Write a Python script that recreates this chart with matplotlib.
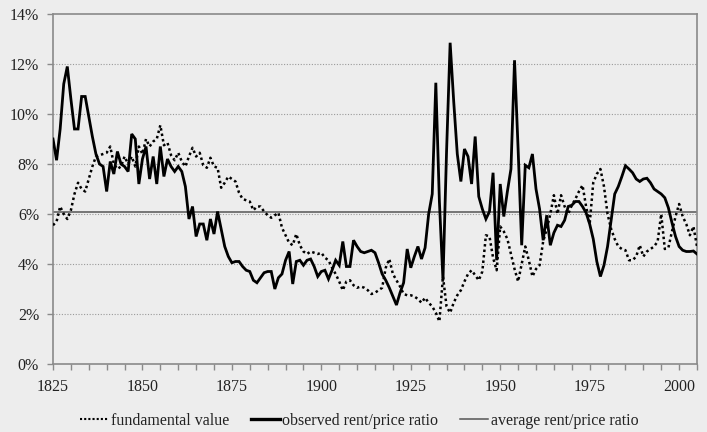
import numpy as np
import matplotlib
matplotlib.use('Agg')
import matplotlib.pyplot as plt
from matplotlib.lines import Line2D
from matplotlib.ticker import MultipleLocator, FuncFormatter

plt.rcParams['font.family'] = ['Liberation Serif', 'DejaVu Serif']

# yearly series, 1825-2005, in percent
years = np.arange(1825, 2006)

observed = [
    9.0, 8.15, 9.4, 11.2, 11.9, 10.6, 9.4, 9.4, 10.7, 10.7,
    9.9, 9.1, 8.4, 8.0, 7.9, 6.9, 8.1, 7.6, 8.5, 8.0,
    7.9, 7.7, 9.2, 9.0, 7.2, 8.2, 8.7, 7.4, 8.3, 7.2,
    8.7, 7.5, 8.2, 7.9, 7.7, 7.9, 7.7, 7.1, 5.8, 6.3,
    5.1, 5.6, 5.6, 4.95, 5.8, 5.2, 6.1, 5.4, 4.7, 4.3,
    4.05, 4.1, 4.1, 3.9, 3.75, 3.7, 3.35, 3.25, 3.45, 3.65,
    3.7, 3.7, 3.0, 3.45, 3.6, 4.15, 4.5, 3.2, 4.1, 4.15,
    3.95, 4.15, 4.2, 3.9, 3.5, 3.7, 3.75, 3.4, 3.75, 4.15,
    3.95, 4.9, 3.9, 3.9, 4.95, 4.7, 4.5, 4.45, 4.5, 4.55,
    4.45, 4.05, 3.6, 3.35, 3.05, 2.7, 2.36, 2.85, 3.25, 4.6,
    3.85, 4.3, 4.7, 4.2, 4.65, 6.0, 6.8, 11.25, 6.5, 3.35,
    8.5, 12.85, 10.5, 8.4, 7.3, 8.6, 8.3, 7.2, 9.1, 6.7,
    6.2, 5.8, 6.1, 7.65, 4.15, 7.2, 5.9, 6.9, 7.8, 12.15,
    8.6, 4.75, 7.95, 7.85, 8.4, 7.0, 6.2, 4.95, 5.95, 4.75,
    5.25, 5.55, 5.5, 5.75, 6.3, 6.35, 6.5, 6.5, 6.3, 6.05,
    5.6, 5.0, 4.1, 3.5, 3.95, 4.7, 5.75, 6.8, 7.1, 7.5,
    7.93, 7.8, 7.65, 7.4, 7.3, 7.4, 7.43, 7.25, 7.0, 6.9,
    6.8, 6.65, 6.25, 5.65, 5.1, 4.7, 4.55, 4.5, 4.5, 4.52, 4.4,
]

fundamental = [
    5.55, 5.7, 6.3, 6.0, 5.8, 6.15, 6.8, 7.25, 7.0, 6.9,
    7.4, 7.9, 8.3, 8.35, 8.4, 8.45, 8.7, 8.0, 7.8, 7.9,
    8.3, 8.0, 8.3, 7.9, 8.7, 8.4, 9.0, 8.7, 8.9, 9.0,
    9.55, 8.75, 8.85, 8.35, 8.15, 8.45, 8.1, 7.9, 8.3, 8.65,
    8.3, 8.45, 7.95, 7.85, 8.25, 7.9, 7.85, 7.05, 7.25, 7.5,
    7.4, 7.3, 6.85, 6.6, 6.55, 6.5, 6.15, 6.3, 6.3, 6.1,
    5.95, 5.85, 5.95, 6.05, 5.45, 5.15, 4.85, 4.75, 5.2, 4.75,
    4.5, 4.4, 4.5, 4.45, 4.4, 4.45, 4.25, 4.15, 3.85, 3.6,
    3.3, 2.95, 3.3, 3.35, 3.15, 3.05, 3.1, 3.05, 2.95, 2.8,
    2.85, 2.95, 3.05, 3.85, 4.2, 3.6, 3.35, 3.1, 2.8, 2.75,
    2.75, 2.7, 2.6, 2.45, 2.65, 2.45, 2.3, 2.05, 1.7, 3.5,
    2.3, 2.05, 2.45, 2.75, 2.95, 3.3, 3.6, 3.75, 3.55, 3.35,
    3.7, 5.15, 5.1, 4.25, 3.75, 5.5, 5.3, 5.0, 4.4, 3.8,
    3.3, 4.0, 4.7, 4.15, 3.5, 3.8, 3.95, 4.9, 5.4, 6.0,
    6.75, 6.0, 6.75, 6.3, 6.0, 6.35, 6.6, 6.9, 7.15, 6.3,
    5.6, 7.25, 7.6, 7.8, 7.1, 6.0, 5.4, 5.0, 4.7, 4.6,
    4.55, 4.15, 4.15, 4.3, 4.75, 4.3, 4.5, 4.6, 4.7, 4.9,
    6.0, 4.6, 4.65, 5.3, 5.9, 6.4, 5.9, 5.6, 5.15, 5.5, 4.7,
]

avg_ratio = 6.1

bg = '#ededed'
frame = '#8a8a8a'

fig = plt.figure(figsize=(7.07, 4.32), dpi=100, facecolor=bg)
ax = fig.add_axes([53 / 707, 1 - 364 / 432, 644 / 707, 350 / 432])
ax.set_facecolor(bg)

# horizontal grid
for v in range(2, 14, 2):
    ax.axhline(v, color='#9a9a9a', lw=0.8, ls=(0, (1, 1.5)), zorder=1)

ax.axhline(avg_ratio, color='#555555', lw=1.1, zorder=2)
ax.plot(years, fundamental, color='black', lw=1.8, ls=(0, (1, 1.2)),
        dash_capstyle='butt', zorder=3)
ax.plot(years, observed, color='black', lw=2.0, solid_joinstyle='miter',
        zorder=4)

ax.set_xlim(1825, 2005)
ax.set_ylim(0, 14)

ax.yaxis.set_major_locator(MultipleLocator(2))
ax.yaxis.set_major_formatter(FuncFormatter(lambda v, p: '%d%%' % v))
ax.set_xticks(range(1825, 2001, 25))
ax.xaxis.set_minor_locator(MultipleLocator(5))

for s in ax.spines.values():
    s.set_color(frame)
    s.set_linewidth(1.2)

ax.tick_params(axis='both', which='both', direction='out', color=frame,
               width=1.0, labelsize=11.5, labelcolor='#222222')
ax.tick_params(axis='x', which='both', length=4, pad=7)
ax.tick_params(axis='y', length=4, pad=6)

handles = [
    Line2D([], [], color='black', lw=1.5, ls=(0, (1, 1))),
    Line2D([], [], color='black', lw=2.4),
    Line2D([], [], color='#555555', lw=1.1),
]
labels = ['fundamental value', 'observed rent/price ratio',
          'average rent/price ratio']
fig.legend(handles, labels, loc='center', bbox_to_anchor=(0.508, 0.026),
           ncol=3, frameon=False, fontsize=11.5, handlelength=1.8,
           handletextpad=0.15, columnspacing=1.35, labelcolor='#222222')

fig.savefig('out.png', dpi=100, facecolor=bg)
